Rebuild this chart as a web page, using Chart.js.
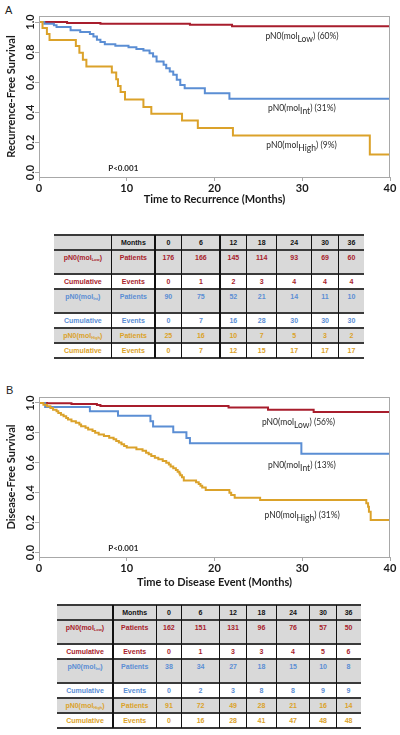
<!DOCTYPE html>
<html>
<head>
<meta charset="utf-8">
<script src="https://cdn.jsdelivr.net/npm/chart.js@4.4.1/dist/chart.umd.min.js"></script>
<style>
  body { margin: 0; background: #fff; }
  #wrap { position: relative; width: 400px; height: 735px; overflow: hidden; }
  .panel { position: absolute; font: 11px "Liberation Sans", Arial, sans-serif; color: #222; }
  canvas { position: absolute; left: 0; }
  .tbl { position: absolute; font: bold 7px "Liberation Sans", Arial, sans-serif; }
  .tbl div { position: absolute; }
  .cell { text-align: center; line-height: 15px; height: 15px; white-space: nowrap; }
  .cell sub { font-size: 4px; vertical-align: -1px; }
</style>
</head>
<body>
<div id="wrap">
  <div class="panel" style="left:5px;top:4px">A</div>
  <canvas id="chartA" width="400" height="212" style="top:0"></canvas>
  <div class="tbl" id="tableA" style="left:54px;top:235px"></div>
  <div class="panel" style="left:6px;top:384px">B</div>
  <canvas id="chartB" width="400" height="212" style="top:380px"></canvas>
  <div class="tbl" id="tableB" style="left:57px;top:605px"></div>
</div>
<script>
var colors = { low: '#a81d2c', int: '#5b8ed4', high: '#dba22a' };
var groups = ['Low', 'Int', 'High'];

// Panel A: recurrence-free survival (Kaplan-Meier steps)
var timeA_low  = [0, 3.2, 7.0, 17.2, 22.0, 40];
var survA_low  = [1, 0.994, 0.989, 0.982, 0.972, 0.972];
var timeA_int  = [0, 0.6, 1.7, 2.0, 3.6, 4.7, 5.8, 6.2, 6.6, 7.0, 7.5, 8.7, 10.2, 11.1, 11.9, 12.6, 13.0, 13.4, 14.2, 14.5, 14.9, 15.3, 15.7, 16.1, 16.6, 18.9, 21.7, 40];
var survA_int  = [1, 0.989, 0.978, 0.967, 0.946, 0.933, 0.92, 0.904, 0.882, 0.867, 0.853, 0.842, 0.833, 0.82, 0.811, 0.793, 0.771, 0.738, 0.716, 0.693, 0.671, 0.649, 0.616, 0.582, 0.56, 0.527, 0.49, 0.49];
var timeA_high = [0, 0.4, 0.9, 1.2, 4.2, 4.6, 5.0, 5.4, 8.3, 8.8, 9.0, 9.3, 9.8, 11.9, 12.8, 16.3, 18.1, 22.1, 37.7, 40];
var survA_high = [1, 0.96, 0.92, 0.88, 0.84, 0.795, 0.75, 0.705, 0.665, 0.62, 0.575, 0.535, 0.485, 0.435, 0.39, 0.345, 0.295, 0.245, 0.12, 0.12];
var pctA = ['60%', '31%', '9%'];

// Panel B: disease-free survival
var timeB_low  = [0, 0.9, 3.7, 6.6, 7.0, 21.6, 26.1, 31.3, 40];
var survB_low  = [1, 0.998, 0.993, 0.987, 0.98, 0.969, 0.955, 0.94, 0.94];
var timeB_int  = [0, 0.7, 5.8, 9.0, 12.7, 13.0, 15.3, 16.8, 17.2, 29.9, 40];
var survB_int  = [1, 0.973, 0.944, 0.915, 0.877, 0.843, 0.805, 0.765, 0.73, 0.66, 0.66];
var timeB_high = [0, 0.5, 0.9, 1.3, 1.6, 2.0, 2.2, 2.5, 2.8, 3.1, 3.3, 3.7, 4.2, 4.6, 4.8, 5.3, 5.6, 6.1, 6.4, 6.8, 7.4, 8.0, 8.5, 8.8, 9.1, 9.4, 9.7, 10.0, 11.1, 11.8, 12.2, 12.5, 12.8, 13.2, 13.6, 14.1, 14.5, 14.8, 15.0, 15.3, 15.6, 15.8, 16.0, 16.1, 16.3, 16.5, 17.9, 18.2, 18.4, 18.6, 19.0, 21.7, 21.9, 22.3, 25.2, 37.3, 37.5, 37.6, 37.8, 40];
var survB_high = [1, 0.989, 0.978, 0.967, 0.955, 0.944, 0.933, 0.922, 0.911, 0.9, 0.889, 0.878, 0.867, 0.856, 0.845, 0.834, 0.823, 0.812, 0.801, 0.79, 0.779, 0.768, 0.757, 0.746, 0.735, 0.724, 0.713, 0.702, 0.691, 0.68, 0.668, 0.657, 0.645, 0.634, 0.623, 0.612, 0.6, 0.588, 0.576, 0.564, 0.552, 0.54, 0.528, 0.516, 0.504, 0.482, 0.47, 0.458, 0.446, 0.434, 0.418, 0.4, 0.385, 0.367, 0.351, 0.33, 0.306, 0.273, 0.217, 0.217];
var pctB = ['56%', '13%', '31%'];

// number-at-risk tables
var months = [0, 6, 12, 18, 24, 30, 36];
var lowPatientsA  = [176, 166, 145, 114, 93, 69, 60];
var lowEventsA    = [0, 1, 2, 3, 4, 4, 4];
var intPatientsA  = [90, 75, 52, 21, 14, 11, 10];
var intEventsA    = [0, 7, 16, 28, 30, 30, 30];
var highPatientsA = [25, 16, 10, 7, 5, 3, 2];
var highEventsA   = [0, 7, 12, 15, 17, 17, 17];

var lowPatientsB  = [162, 151, 131, 96, 76, 57, 50];
var lowEventsB    = [0, 1, 3, 3, 4, 5, 6];
var intPatientsB  = [38, 34, 27, 18, 15, 10, 8];
var intEventsB    = [0, 2, 3, 8, 8, 9, 9];
var highPatientsB = [91, 72, 49, 28, 21, 16, 14];
var highEventsB   = [0, 16, 28, 41, 47, 48, 48];

function pts(t, s) {
    var out = [];
    for (var i = 0; i < t.length; i++) out.push({ x: t[i], y: s[i] });
    return out;
}

var FONT = 'Lato, "Open Sans", sans-serif';

var kmText = {
    id: 'kmText',
    afterDraw: function (chart, args, opts) {
        var ctx = chart.ctx, xs = chart.scales.x, ys = chart.scales.y, a = chart.chartArea;
        ctx.save();
        // frame
        ctx.strokeStyle = '#a8a8a8';
        ctx.lineWidth = 1;
        ctx.strokeRect(a.left + 0.5, a.top + 0.5, a.right - a.left - 1, a.bottom - a.top);
        // rotated y tick labels
        ctx.fillStyle = '#1a1a1a';
        ctx.font = 'bold 11px ' + FONT;
        ctx.textAlign = 'center';
        ctx.textBaseline = 'middle';
        ys.ticks.forEach(function (t) {
            if (t.value < 0 || t.value > 1) return;
            ctx.save();
            ctx.translate(a.left - 9, ys.getPixelForValue(t.value));
            ctx.rotate(-Math.PI / 2);
            ctx.fillText(t.value.toFixed(1), 0, 0);
            ctx.restore();
        });
        // curve labels
        ctx.textAlign = 'left';
        ctx.fillStyle = '#2a2a2a';
        opts.labels.forEach(function (l) {
            var x = xs.getPixelForValue(l.x), y = ys.getPixelForValue(l.y);
            var main = '8.5px ' + FONT;
            ctx.font = main;
            ctx.fillText('pN0(mol', x, y);
            x += ctx.measureText('pN0(mol').width;
            ctx.fillText(l.sub, x, y + 3);
            x += ctx.measureText(l.sub).width;
            ctx.fillText(') (' + l.pct + ')', x, y);
        });
        // p value
        ctx.font = 'bold 8px ' + FONT;
        ctx.textAlign = 'center';
        ctx.fillText('P<0.001', xs.getPixelForValue(opts.p.x), ys.getPixelForValue(opts.p.y));
        ctx.restore();
    }
};

function makeChart(id, series, pct, xTitle, yTitle, titlePad, topPad, labelPos) {
    var keys = ['low', 'int', 'high'];
    var datasets = series.map(function (s, i) {
        return {
            label: groups[i],
            data: pts(s[0], s[1]),
            borderColor: colors[keys[i]],
            borderWidth: 2,
            pointRadius: 0,
            stepped: true,
            fill: false
        };
    });
    return new Chart(document.getElementById(id).getContext('2d'), {
        type: 'line',
        data: { datasets: datasets.reverse() },
        plugins: [kmText],
        options: {
            responsive: false,
            animation: false,
            layout: { padding: { top: topPad, right: 10, left: 0, bottom: 0 } },
            plugins: {
                legend: { display: false },
                tooltip: { enabled: false },
                kmText: {
                    labels: groups.map(function (g, i) {
                        return { x: labelPos[i][0], y: labelPos[i][1], sub: g, pct: pct[i] };
                    }),
                    p: { x: 9.6, y: 0.03 }
                }
            },
            scales: {
                x: {
                    type: 'linear', min: 0, max: 40,
                    afterFit: function (s) { s.height = 35; },
                    border: { display: false },
                    grid: { drawOnChartArea: false, tickLength: 4, color: '#a8a8a8' },
                    ticks: { stepSize: 10, maxRotation: 0, padding: 1, color: '#1a1a1a', font: { family: FONT, size: 11, weight: 'bold' } },
                    title: { display: true, text: xTitle, color: '#1a1a1a', padding: { top: 0, bottom: titlePad }, font: { family: FONT, size: 11, weight: 'bold' } }
                },
                y: {
                    min: -0.03, max: 1.04,
                    afterFit: function (s) { s.width = 39; },
                    border: { display: false },
                    grid: { drawOnChartArea: false, tickLength: 4, color: '#a8a8a8' },
                    ticks: { stepSize: 0.2, includeBounds: false, display: false },
                    title: { display: true, text: yTitle, color: '#1a1a1a', padding: { top: 5, bottom: 0 }, font: { family: FONT, size: 11, weight: 'bold' } }
                }
            }
        }
    });
}

makeChart('chartA',
    [[timeA_low, survA_low], [timeA_int, survA_int], [timeA_high, survA_high]],
    pctA, 'Time to Recurrence (Months)', 'Recurrence-Free Survival', 6, 16,
    [[25.8, 0.904], [26.1, 0.427], [25.9, 0.182]]);

makeChart('chartB',
    [[timeB_low, survB_low], [timeB_int, survB_int], [timeB_high, survB_high]],
    pctB, 'Time to Disease Event (Months)', 'Disease-Free Survival', 3, 17,
    [[25.4, 0.872], [26.1, 0.586], [25.7, 0.246]]);

function buildTable(el, widths, heights, rows) {
    var total = widths.reduce(function (a, b) { return a + b; }, 0);
    var xs = [0];
    widths.forEach(function (w, i) { xs.push(xs[i] + w); });
    var top = 0, html = '';
    rows.forEach(function (r, i) {
        var h = heights[i];
        if (r.bg) html += '<div style="left:0;top:' + top + 'px;width:' + total + 'px;height:' + h + 'px;background:' + r.bg + '"></div>';
        r.cells.forEach(function (c, j) {
            html += '<div class="cell" style="left:' + xs[j] + 'px;top:' + top + 'px;width:' + widths[j] + 'px;color:' + r.color + '">' + c + '</div>';
        });
        top += h;
    });
    // horizontal rules
    var y = 0;
    for (var i = 0; i <= heights.length; i++) {
        html += '<div style="left:0;top:' + (y - 1) + 'px;width:' + total + 'px;height:2px;background:#3a3a3a"></div>';
        if (i < heights.length) y += heights[i];
    }
    // vertical rules
    for (var j = 1; j < widths.length; j++) {
        html += '<div style="left:' + (xs[j] - 0.75) + 'px;top:0;width:1.5px;height:' + y + 'px;background:#111"></div>';
    }
    el.innerHTML = html;
}

function tableRows(lp, le, ip, ie, hp, he) {
    var gray = '#d9d9d9';
    function lab(s) { return 'pN0(mol<sub>' + s + '</sub>)'; }
    return [
        { bg: gray, color: '#111', cells: ['', 'Months'].concat(months) },
        { bg: gray, color: colors.low, cells: [lab('Low'), 'Patients'].concat(lp) },
        { bg: null, color: colors.low, cells: ['Cumulative', 'Events'].concat(le) },
        { bg: gray, color: colors.int, cells: [lab('Int'), 'Patients'].concat(ip) },
        { bg: null, color: colors.int, cells: ['Cumulative', 'Events'].concat(ie) },
        { bg: gray, color: colors.high, cells: [lab('High'), 'Patients'].concat(hp) },
        { bg: null, color: colors.high, cells: ['Cumulative', 'Events'].concat(he) }
    ];
}

buildTable(document.getElementById('tableA'),
    [57.7, 43.3, 26.7, 38.3, 26.7, 30, 35, 26.7, 26],
    [15, 24.3, 15, 23.3, 15, 15.7, 15],
    tableRows(lowPatientsA, lowEventsA, intPatientsA, intEventsA, highPatientsA, highEventsA));

buildTable(document.getElementById('tableB'),
    [56, 43.4, 25, 38.3, 26.7, 30, 33.3, 26.7, 24.3],
    [15, 24.3, 15, 23.3, 15, 15.7, 15],
    tableRows(lowPatientsB, lowEventsB, intPatientsB, intEventsB, highPatientsB, highEventsB));
</script>
</body>
</html>
